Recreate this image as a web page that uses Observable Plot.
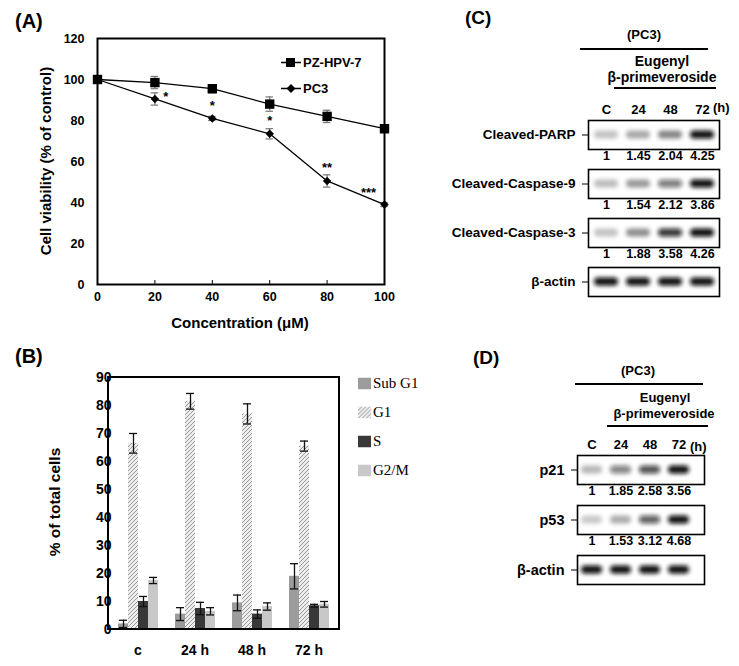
<!DOCTYPE html>
<html><head><meta charset="utf-8">
<script src="https://cdn.jsdelivr.net/npm/d3@7"></script>
<script src="https://cdn.jsdelivr.net/npm/@observablehq/plot@0.6"></script>
<style>
body{margin:0;background:#fff;}
#fig{position:relative;width:739px;height:666px;overflow:hidden;font-family:"Liberation Sans",Arial,sans-serif;font-weight:bold;color:#000;background:#fff;}
.abs{position:absolute;white-space:nowrap;line-height:1;}
.panel{position:absolute;}
</style></head><body><div id="fig"></div>
<script>
// ---------- Panel A : cell viability ----------
const concentrations = [0, 20, 40, 60, 80, 100];
const pzViability = [100, 98.5, 95.5, 88, 82, 76];
const pzError = [0, 3, 2, 3.5, 3, 2];
const pc3Viability = [100, 90.5, 81, 73.5, 50.5, 39];
const pc3Error = [0, 3, 1, 2.5, 3, 1];
const pc3Significance = ["", "*", "*", "*", "**", "***"];
const viabilityTicks = [0, 20, 40, 60, 80, 100, 120];

// ---------- Panel B : cell cycle ----------
const timePoints = ["c", "24 h", "48 h", "72 h"];
const phases = ["Sub G1", "G1", "S", "G2/M"];
const subG1 = [2, 5.5, 9.5, 19];
const subG1Err = [1.3, 2.3, 2.8, 4.5];
const g1 = [66.5, 81.5, 77, 65.5];
const g1Err = [3.5, 2.8, 3.6, 1.8];
const sPhase = [10, 7.5, 5.5, 8.5];
const sErr = [1.8, 2.2, 1.5, 0.5];
const g2m = [17.5, 6.5, 8.2, 9];
const g2mErr = [1.1, 1.3, 1.3, 1];
const percentTicks = [0, 10, 20, 30, 40, 50, 60, 70, 80, 90];

// ---------- Panel C / D : western blots ----------
const lanes = ["C", "24", "48", "72"];
const blotRowsC = ["Cleaved-PARP", "Cleaved-Caspase-9", "Cleaved-Caspase-3", "β-actin"];
const parp = [1, 1.45, 2.04, 4.25];
const caspase9 = [1, 1.54, 2.12, 3.86];
const caspase3 = [1, 1.88, 3.58, 4.26];
const actinC = [1, 1, 1, 1];
const blotRowsD = ["p21", "p53", "β-actin"];
const p21 = [1, 1.85, 2.58, 3.56];
const p53 = [1, 1.53, 3.12, 4.68];
const actinD = [1, 1, 1, 1];

const FONT = '"Liberation Sans", Arial, sans-serif';
const fig = document.getElementById("fig");

function addText(str, cx, cy, size, opts = {}) {
  const d = document.createElement("div");
  d.className = "abs";
  d.textContent = str;
  d.style.left = cx + "px";
  d.style.top = cy + "px";
  d.style.fontSize = size + "px";
  if (opts.family) d.style.fontFamily = opts.family;
  if (opts.weight) d.style.fontWeight = opts.weight;
  const anchor = opts.anchor || "middle";
  const tx = anchor === "middle" ? "-50%" : anchor === "end" ? "-100%" : "0";
  d.style.transform = `translate(${tx},-50%)` + (opts.rotate ? ` rotate(${opts.rotate}deg)` : "");
  fig.appendChild(d);
  return d;
}
function hline(x1, x2, y, w = 1.3) {
  const d = document.createElement("div");
  d.className = "abs";
  d.style.left = x1 + "px"; d.style.top = (y - w / 2) + "px";
  d.style.width = (x2 - x1) + "px"; d.style.height = w + "px";
  d.style.background = "#000";
  fig.appendChild(d);
}
function placePlot(node, left, top) {
  const wrap = document.createElement("div");
  wrap.className = "panel";
  wrap.style.left = left + "px"; wrap.style.top = top + "px";
  wrap.appendChild(node);
  fig.appendChild(wrap);
}

// ================= Panel A =================
const pzData = concentrations.map((x, i) => ({x, y: pzViability[i], e: pzError[i]}));
const pcData = concentrations.map((x, i) => ({x, y: pc3Viability[i], e: pc3Error[i], sig: pc3Significance[i], i}));
const errA = [...pzData, ...pcData].filter(d => d.e > 0);

const plotA = Plot.plot({
  width: 400, height: 340,
  marginLeft: 97, marginRight: 16, marginTop: 38, marginBottom: 56,
  style: {fontFamily: FONT, fontWeight: "bold", fontSize: "12.5px", background: "transparent", color: "#000", overflow: "visible"},
  x: {domain: [0, 100], ticks: concentrations, tickSize: -4, tickPadding: 12, label: null},
  y: {domain: [0, 120], ticks: viabilityTicks, tickSize: 0, tickPadding: 13, label: null},
  marks: [
    Plot.ruleX(errA, {x: "x", y1: d => d.y - d.e, y2: d => d.y + d.e, stroke: "#777", strokeWidth: 1.2}),
    Plot.ruleY(errA, {x1: d => d.x - 1.3, x2: d => d.x + 1.3, y: d => d.y + d.e, stroke: "#777", strokeWidth: 1.2}),
    Plot.ruleY(errA, {x1: d => d.x - 1.3, x2: d => d.x + 1.3, y: d => d.y - d.e, stroke: "#777", strokeWidth: 1.2}),
    Plot.line(pzData, {x: "x", y: "y", stroke: "#000", strokeWidth: 1.3}),
    Plot.line(pcData, {x: "x", y: "y", stroke: "#000", strokeWidth: 1.3}),
    Plot.dot(pzData, {x: "x", y: "y", symbol: "square", r: 5.3, fill: "#000", stroke: "none"}),
    Plot.dot(pcData, {x: "x", y: "y", symbol: "diamond2", r: 3.8, fill: "#000", stroke: "none"}),
    Plot.text(pcData, {filter: d => d.i === 1, x: "x", y: "y", text: "sig", dx: 11, dy: -2, fontSize: 13}),
    Plot.text(pcData, {filter: d => d.i >= 2 && d.i <= 4, x: "x", y: "y", text: "sig", dy: -13, fontSize: 13}),
    Plot.text(pcData, {filter: d => d.i === 5, x: "x", y: "y", text: "sig", dx: -16, dy: -12, fontSize: 13}),
    Plot.frame({stroke: "#000", strokeWidth: 2})
  ]
});
placePlot(plotA, 0, 0);
addText("(A)", 15, 21, 20, {anchor: "start"});
addText("Cell viability (% of control)", 45, 161, 15, {rotate: -90});
addText("Concentration (μM)", 240, 322, 15);

// Legend A
function legendA(label, marker, y) {
  const d = document.createElement("div");
  d.className = "abs";
  d.style.left = "281px"; d.style.top = y + "px";
  d.style.transform = "translate(0,-50%)";
  d.style.display = "flex"; d.style.alignItems = "center";
  d.style.fontSize = "13px";
  const m = marker === "square"
    ? '<rect x="5" y="1.5" width="9" height="9" fill="#000"/>'
    : '<polygon points="10,1.5 14.5,6 10,10.5 5.5,6" fill="#000"/>';
  d.innerHTML = `<svg width="20" height="12" style="margin-right:2px"><line x1="0" x2="20" y1="6" y2="6" stroke="#000" stroke-width="1.3"/>${m}</svg><span>${label}</span>`;
  fig.appendChild(d);
}
legendA("PZ-HPV-7", "square", 62);
legendA("PC3", "diamond", 88);

// ================= Panel B =================
const phaseValues = [subG1, g1, sPhase, g2m];
const phaseErrors = [subG1Err, g1Err, sErr, g2mErr];
const bData = timePoints.flatMap((time, i) => phases.map((phase, p) => ({time, phase, v: phaseValues[p][i], e: phaseErrors[p][i]})));

const plotB = Plot.plot({
  width: 350, height: 336,
  marginLeft: 108, marginRight: 11, marginTop: 47, marginBottom: 37,
  style: {fontFamily: FONT, fontWeight: "bold", fontSize: "14px", background: "transparent", color: "#000", overflow: "visible"},
  facet: {data: bData, x: "time"},
  fx: {domain: timePoints, paddingInner: 0.273, paddingOuter: 0.136, axis: "bottom", tickSize: 0, tickPadding: 16, label: null},
  x: {domain: phases, axis: null, paddingInner: 0.04, paddingOuter: 0},
  y: {domain: [0, 90], ticks: percentTicks, tickSize: 0, tickPadding: 6, label: null},
  color: {domain: phases, range: ["#9c9c9c", "url(#hatchG1)", "#383838", "#c8c8c8"]},
  marks: [
    Plot.barY(bData, {x: "phase", y: "v", fill: "phase"}),
    Plot.ruleX(bData, {x: "phase", y1: d => Math.max(0, d.v - d.e), y2: d => d.v + d.e, stroke: "#111", strokeWidth: 1.3}),
    Plot.tickY(bData, {x: "phase", y: d => d.v + d.e, stroke: "#111", strokeWidth: 1.3, insetLeft: 1, insetRight: 1}),
    Plot.tickY(bData, {x: "phase", y: d => Math.max(0, d.v - d.e), stroke: "#111", strokeWidth: 1.3, insetLeft: 1, insetRight: 1})
  ]
});
{
  const svg = d3.select(plotB);
  const pat = svg.insert("defs", ":first-child").append("pattern")
    .attr("id", "hatchG1").attr("patternUnits", "userSpaceOnUse").attr("width", 4).attr("height", 4);
  pat.append("rect").attr("width", 4).attr("height", 4).attr("fill", "#ededed");
  pat.append("path").attr("d", "M0,4L4,0M-1,1L1,-1M3,5L5,3").attr("stroke", "#9a9a9a").attr("stroke-width", 1);
  svg.append("rect").attr("x", 108).attr("y", 47).attr("width", 231).attr("height", 252)
    .attr("fill", "none").attr("stroke", "#000").attr("stroke-width", 2);
}
placePlot(plotB, 0, 330);
addText("(B)", 15, 356, 20, {anchor: "start"});
addText("% of total cells", 55, 502, 15.5, {rotate: -90});

// Legend B
const legendBColors = ["#9c9c9c", "url(#hatchG1)", "#383838", "#c8c8c8"];
const legendBY = [383, 412, 441, 470];
phases.forEach((p, i) => {
  const d = document.createElement("div");
  d.className = "abs";
  d.style.left = "358px"; d.style.top = legendBY[i] + "px";
  d.style.transform = "translate(0,-50%)";
  d.style.display = "flex"; d.style.alignItems = "center";
  d.style.fontFamily = '"Liberation Serif", "Times New Roman", serif';
  d.style.fontWeight = "normal";
  d.style.fontSize = "15px";
  d.innerHTML = `<svg width="13" height="12" style="margin-right:2px"><rect width="13" height="12" fill="${legendBColors[i]}"/></svg><span>${p}</span>`;
  fig.appendChild(d);
});

// ================= Blot helper =================
function blot({rows, series, width, height, marginLeft, marginRight, marginTop, marginBottom, fyPadding, xPaddingOuter, xAlign, bg, id, rowFont}) {
  const data = rows.flatMap((row, r) => {
    const vals = series[r];
    const max = d3.max(vals);
    return lanes.map((lane, i) => ({row, lane, value: vals[i], rel: vals[i] / max, labeled: row !== "β-actin"}));
  });
  const p = Plot.plot({
    width, height, marginLeft, marginRight, marginTop, marginBottom,
    style: {fontFamily: FONT, fontWeight: "bold", fontSize: "13px", background: "transparent", color: "#000", overflow: "visible"},
    facet: {data, y: "row"},
    x: {domain: lanes, paddingInner: 0, paddingOuter: xPaddingOuter, align: xAlign, axis: "top", tickSize: 0, tickPadding: 7, label: null},
    fy: {domain: rows, paddingInner: fyPadding, paddingOuter: 0, axis: "left", tickSize: 0, tickPadding: 13, label: null},
    color: {domain: rows, range: bg},
    opacity: {type: "pow", exponent: 1.3, domain: [0, 1], range: [0, 0.9]},
    marks: [
      Plot.cell(data, {fill: "row"}),
      Plot.cell(data, {x: "lane", fill: "#0d0d0d", fillOpacity: "rel", insetLeft: 4, insetRight: 4, insetTop: 10.5, insetBottom: 10.5, rx: 4, ariaDescription: "band"}),
      Plot.frame({stroke: "#000", strokeWidth: 1.6}),
      Plot.text(data, {filter: d => d.labeled, x: "lane", text: d => String(d.value), frameAnchor: "bottom", dy: 10, fontSize: 12.5})
    ]
  });
  const svg = d3.select(p);
  svg.insert("defs", ":first-child").append("filter").attr("id", id)
    .attr("filterUnits", "userSpaceOnUse")
    .attr("x", -width).attr("y", -height).attr("width", 3 * width).attr("height", 3 * height)
    .append("feGaussianBlur").attr("stdDeviation", 2);
  svg.selectAll('[aria-description="band"]').attr("filter", `url(#${id})`);
  svg.selectAll('g[aria-label="fy-axis tick label"] text').style("font-size", rowFont + "px");
  return p;
}

// ================= Panel C =================
const plotC = blot({
  rows: blotRowsC, series: [parp, caspase9, caspase3, actinC],
  width: 299, height: 320, marginLeft: 148, marginRight: 20, marginTop: 120, marginBottom: 24,
  fyPadding: 0.41, xPaddingOuter: 0, xAlign: 0.5,
  bg: ["#d6d6d6", "#e2e2e2", "#cdcdcd", "#c4c4c4"], id: "blurC", rowFont: 13.5
});
placePlot(plotC, 440, 0);
addText("(C)", 465, 17, 19, {anchor: "start"});
addText("(PC3)", 644, 34, 13);
hline(580, 708, 49);
addText("Eugenyl", 662, 61, 14);
addText("β-primeveroside", 662, 77, 14);
hline(614, 716, 88);
addText("(h)", 713, 107, 13, {anchor: "start"});

// ================= Panel D =================
const plotD = blot({
  rows: blotRowsD, series: [p21, p53, actinD],
  width: 299, height: 260, marginLeft: 137, marginRight: 35, marginTop: 114, marginBottom: 15,
  fyPadding: 0.43, xPaddingOuter: 0.167, xAlign: 0.04,
  bg: ["#bfbfbf", "#d2d2d2", "#c4c4c4"], id: "blurD", rowFont: 14.5
});
placePlot(plotD, 440, 340);
addText("(D)", 473, 357, 19, {anchor: "start"});
addText("(PC3)", 638, 370, 13);
hline(575, 703, 384);
addText("Eugenyl", 665, 397, 13);
addText("β-primeveroside", 664, 413, 13);
hline(607, 708, 426);
addText("(h)", 690, 446, 13, {anchor: "start"});
</script></body></html>
